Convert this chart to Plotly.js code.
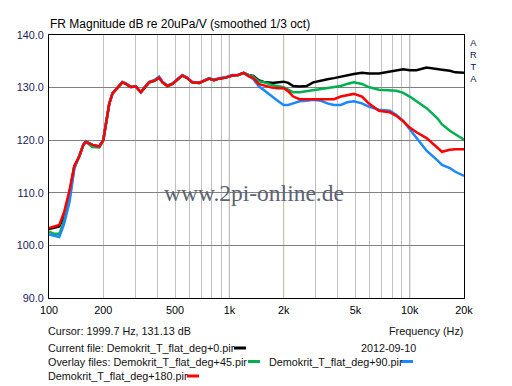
<!DOCTYPE html>
<html>
<head>
<meta charset="utf-8">
<script src="https://cdn.plot.ly/plotly-3.0.1.min.js"></script>
<style>html,body{margin:0;padding:0;background:#fff;}#chart{width:512px;height:386px;}</style>
</head>
<body>
<div id="chart"></div>
<script>
// ---- data ----
var freqs = [100,107,114,121,130,138,147,155,160,174,190,200,207,216,225,240,255,267,284,303,323,337,359,383,408,426,454,483,515,548,584,622,680,724,772,822,876,953,1039,1120,1200,1275,1360,1453,1578,1718,1868,2000,2120,2260,2450,2680,2920,3220,3500,3800,4150,4500,4900,5440,5920,6750,7760,8450,9200,10000,10900,12400,14200,15100,16700,17900,20000];

var deg0 = [103.1,103.4,103.6,105.5,110.0,115.0,116.9,119.1,119.7,119.1,118.8,120.0,123.2,127.0,128.9,129.9,131.0,130.7,130.1,130.2,129.1,129.9,131.0,131.3,131.9,131.0,130.3,130.7,131.6,132.3,131.8,131.0,130.9,131.3,131.7,131.4,131.7,131.9,132.3,132.4,132.8,132.4,132.2,131.4,131.0,130.9,131.0,131.13,130.9,130.3,130.2,130.3,131.0,131.4,131.6,131.8,132.1,132.4,132.6,132.8,132.7,132.7,133.1,133.4,133.5,133.3,133.3,133.8,133.6,133.4,133.2,132.9,132.8];

var deg45 = [102.6,102.2,102.2,104.5,109.0,114.7,116.9,119.1,119.7,118.7,118.6,120.0,123.2,127.0,128.9,129.9,131.0,130.7,130.1,130.2,129.1,129.9,131.0,131.3,131.9,131.0,130.3,130.7,131.6,132.3,131.8,131.0,130.9,131.3,131.7,131.4,131.7,131.9,132.3,132.4,132.8,132.4,132.1,131.2,131.0,130.5,130.2,130.1,129.6,129.1,129.1,129.3,129.6,129.8,129.9,130.2,130.3,130.7,131.0,130.7,130.1,129.6,129.4,129.4,129.0,128.3,127.4,126.1,124.2,123.0,121.8,121.2,120.1];

var deg90 = [102.1,101.8,101.6,104.0,108.3,114.5,116.9,119.1,119.8,119.1,118.8,120.0,123.2,127.0,128.9,129.9,131.1,130.8,130.1,130.2,129.1,129.9,131.1,131.4,132.1,131.1,130.4,130.8,131.7,132.4,131.9,131.1,130.9,131.4,131.8,131.5,131.8,132.0,132.4,132.4,132.8,132.2,131.6,130.3,129.3,128.3,127.4,126.7,126.7,127.0,127.4,127.5,127.7,127.5,127.0,126.7,126.7,127.2,127.4,127.0,126.4,125.8,125.6,124.8,123.7,122.1,120.4,118.0,116.2,115.3,114.7,114.0,113.2];

var deg180 = [103.3,103.6,103.9,106.2,110.5,115.0,116.9,119.1,119.7,119.1,118.8,120.0,123.2,127.0,128.9,129.9,131.0,130.7,130.1,130.2,129.1,129.9,131.0,131.3,131.9,131.0,130.3,130.7,131.6,132.3,131.8,131.0,130.9,131.3,131.7,131.4,131.7,131.9,132.3,132.4,132.8,132.2,131.8,130.7,130.3,130.0,129.9,129.9,129.3,128.3,127.8,127.8,127.8,127.8,127.7,127.8,128.3,128.6,128.8,128.3,127.0,125.6,125.3,124.6,123.6,122.4,121.5,120.4,118.5,117.8,118.2,118.3,118.3];

var seriesNames = ["Demokrit_T_flat_deg+0.pir","Demokrit_T_flat_deg+45.pir","Demokrit_T_flat_deg+90.pir","Demokrit_T_flat_deg+180.pir"];
var seriesColors = ["#000000","#00b050","#1a88ff","#ff0000"];

var xTickVals = [100,200,500,1000,2000,5000,10000,20000];
var xTickText = ["100","200","500","1k","2k","5k","10k","20k"];
var xMinorVals = [300,400,600,700,800,900,3000,4000,6000,7000,8000,9000];
var decadeLines = [1000,10000];
var cursorFreq = 1999.7;
var cursorDb = 131.13;
var yTickVals = [90,100,110,120,130,140];

// ---- layout helpers (pixel -> paper) ----
var L = 49, R = 464, T = 35, B = 298;
function px(x){ return (x - L) / (R - L); }
function py(y){ return (B - y) / (B - T); }

var traces = [deg0, deg45, deg90, deg180].map(function(v, i){
  return {x: freqs, y: v, type: 'scatter', mode: 'lines', name: seriesNames[i],
          line: {color: seriesColors[i], width: 2.5}, hoverinfo: 'skip'};
});

var shapes = decadeLines.map(function(f){
  return {type:'line', xref:'x', yref:'paper', x0:f, x1:f, y0:0, y1:1, layer:'between',
          line:{color:'#808080', width:1}};
});
shapes.push({type:'line', xref:'x', yref:'paper', x0:cursorFreq, x1:cursorFreq, y0:0, y1:1, layer:'between',
             line:{color:'#b8b400', width:1}});

// legend swatches
function swatch(x0, x1, y, c){
  return {type:'line', xref:'paper', yref:'paper', x0:px(x0), x1:px(x1), y0:py(y), y1:py(y),
          line:{color:c, width:3}};
}
shapes.push(swatch(234, 246, 348, seriesColors[0]));
shapes.push(swatch(248, 260, 361.5, seriesColors[1]));
shapes.push(swatch(401, 413, 361.5, seriesColors[2]));
shapes.push(swatch(187, 199, 376, seriesColors[3]));

var txtFont = {family:'Liberation Sans, Arial, sans-serif', size:10.8, color:'#111111'};
function ann(text, x, y, xanchor, font, yanchor){
  return {text:text, xref:'paper', yref:'paper', x:px(x), y:py(y), xanchor:xanchor, yanchor:yanchor || 'middle',
          showarrow:false, font:font || txtFont, borderpad:0};
}
var annotations = [
  ann('Cursor: ' + cursorFreq + ' Hz, ' + cursorDb + ' dB', 47, 330.5, 'left'),
  ann('Frequency (Hz)', 464, 330.5, 'right'),
  ann('Current file: ' + seriesNames[0], 47, 348, 'left'),
  ann('2012-09-10', 360, 348, 'left'),
  ann('Overlay files: ' + seriesNames[1], 47, 361.5, 'left'),
  ann(seriesNames[2], 267.5, 361.5, 'left'),
  ann(seriesNames[3], 47, 376, 'left'),
  ann('www.2pi-online.de', 254, 193, 'center', {family:'Liberation Serif, Times New Roman, serif', size:23.5, color:'#5b6272'}),
  ann('A<br>R<br>T<br>A', 468.5, 36.5, 'left', {family:'Liberation Sans, Arial, sans-serif', size:9.2, color:'#10104e'}, 'top')
];

var layout = {
  width: 512, height: 386,
  margin: {l: L, r: 512 - R, t: T, b: 386 - B, pad: 0},
  paper_bgcolor: '#ffffff', plot_bgcolor: '#ffffff',
  showlegend: false,
  title: {text: 'FR Magnitude dB re 20uPa/V (smoothed 1/3 oct)', x: px(50), xref: 'paper', xanchor: 'left',
          y: 1 - 24/386, yref: 'container', yanchor: 'middle',
          font: {family: 'Liberation Sans, Arial, sans-serif', size: 12, color: '#000000'}},
  xaxis: {type: 'log', range: [2, Math.log10(20000)], tickmode: 'array', tickvals: xTickVals, ticktext: xTickText,
          showgrid: true, gridcolor: '#c0c0c0', gridwidth: 1, ticks: '', zeroline: false, ticklabelstandoff: 2,
          showline: true, linecolor: '#000000', linewidth: 1, mirror: true,
          minor: {tickmode: 'array', tickvals: xMinorVals, showgrid: true, gridcolor: '#c0c0c0', gridwidth: 1, ticks: ''},
          tickfont: {family: 'Liberation Sans, Arial, sans-serif', size: 10.8, color: '#000000'}, fixedrange: true},
  yaxis: {range: [90, 140], tickmode: 'array', tickvals: yTickVals, tickformat: '.1f',
          showgrid: true, gridcolor: '#808080', gridwidth: 1, ticks: '', zeroline: false, ticklabelstandoff: 2,
          showline: true, linecolor: '#000000', linewidth: 1, mirror: true,
          tickfont: {family: 'Liberation Sans, Arial, sans-serif', size: 10.8, color: '#1a1a5e'}, fixedrange: true},
  shapes: shapes,
  annotations: annotations
};

Plotly.newPlot('chart', traces, layout, {staticPlot: true, displayModeBar: false});
</script>
</body>
</html>
